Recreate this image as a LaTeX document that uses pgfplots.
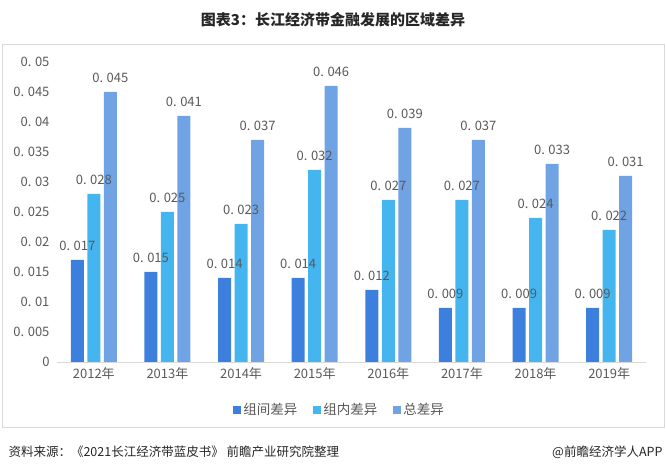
\documentclass[border=0pt]{standalone}
\usepackage{pgfplots}
\pgfplotsset{compat=1.18}
\usepackage{fontspec}
\setmainfont{Noto Sans CJK SC}
\definecolor{cA}{HTML}{3D7FDC}
\definecolor{cB}{HTML}{45B5F0}
\definecolor{cC}{HTML}{6FA3E4}
\definecolor{tgrey}{HTML}{595959}
\definecolor{fgrey}{HTML}{D9D9D9}
\begin{document}
\begin{tikzpicture}[x=1pt,y=1pt]
\useasboundingbox (0,0) rectangle (666,473);
\draw[fgrey, line width=1pt] (2,45) rectangle (664,428);
\node[font=\fontsize{15}{18}\selectfont\bfseries, text=black!85] at (333,453) {图表3：长江经济带金融发展的区域差异};
\node[anchor=west, font=\fontsize{12.5}{15}\selectfont, text=black!85] at (5,21) {资料来源：《2021长江经济带蓝皮书》 前瞻产业研究院整理};
\node[anchor=east, font=\fontsize{12.5}{15}\selectfont, text=black!85] at (666,21) {@前瞻经济学人APP};
\begin{axis}[
  at={(57pt,111pt)}, anchor=south west,
  scale only axis, width=589pt, height=300pt,
  ybar=3.5pt, bar width=13pt,
  xmin=-0.5, xmax=7.5, ymin=0, ymax=0.05,
  xtick=data,
  xticklabels={2012年,2013年,2014年,2015年,2016年,2017年,2018年,2019年},
  ytick={0,0.005,...,0.0501},
  scaled y ticks=false,
  axis x line*=bottom, axis y line*=left,
  x axis line style={fgrey, line width=0.8pt, -},
  y axis line style={draw=none},
  major tick length=0pt,
  /pgf/number format/assume math mode=true,
  /pgf/number format/dec sep={.\hspace{3.5pt}},
  yticklabel style={/pgf/number format/fixed, /pgf/number format/precision=3, text=tgrey, font=\fontsize{13}{14}\selectfont, xshift=-4pt},
  xticklabel style={text=tgrey, font=\fontsize{13}{14}\selectfont, yshift=-2pt},
  ytick style={draw=none},
  nodes near coords={\pgfmathprintnumber[fixed, fixed zerofill, precision=3]{\pgfplotspointmeta}},
  nodes near coords style={text=tgrey, font=\fontsize{13}{14}\selectfont, yshift=6pt},
  every axis plot/.append style={draw=none},
  legend style={at={(0.48,-0.16)}, anchor=center, draw=none, legend columns=3,
    font=\fontsize{13.5}{15}\selectfont, text=tgrey,
    /tikz/every even column/.append style={column sep=14pt}},
  legend image code/.code={\fill[#1] (0pt,-4pt) rectangle (8pt,4pt);},
  clip=false,
]
\addplot[fill=cA] coordinates {(0,0.017) (1,0.015) (2,0.014) (3,0.014) (4,0.012) (5,0.009) (6,0.009) (7,0.009)};
\addplot[fill=cB] coordinates {(0,0.028) (1,0.025) (2,0.023) (3,0.032) (4,0.027) (5,0.027) (6,0.024) (7,0.022)};
\addplot[fill=cC] coordinates {(0,0.045) (1,0.041) (2,0.037) (3,0.046) (4,0.039) (5,0.037) (6,0.033) (7,0.031)};
\legend{组间差异,组内差异,总差异}
\end{axis}
\end{tikzpicture}
\end{document}
